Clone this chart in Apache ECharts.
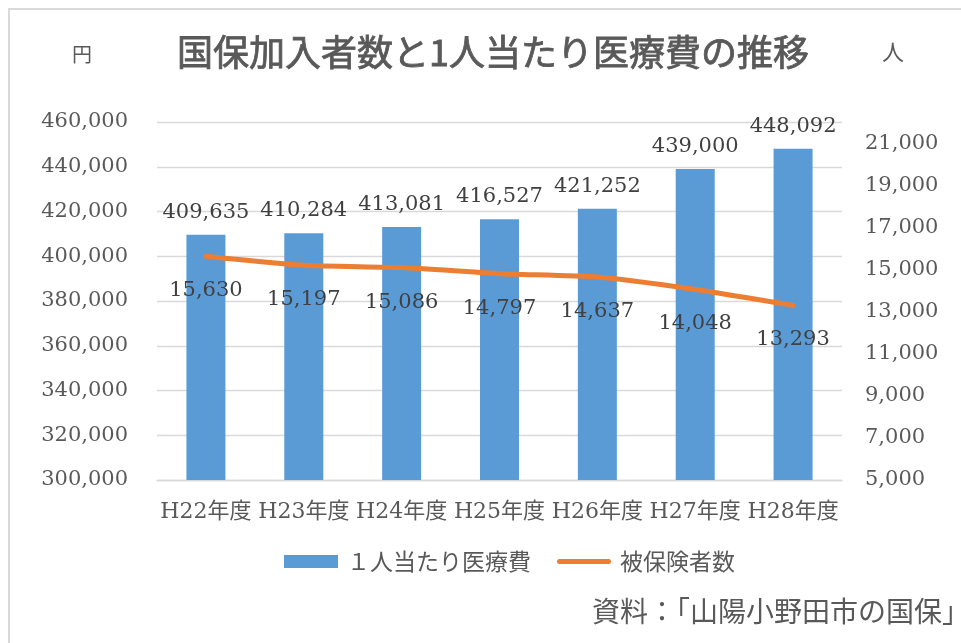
<!DOCTYPE html>
<html>
<head>
<meta charset="utf-8">
<script src="https://cdn.jsdelivr.net/npm/echarts@6/dist/echarts.min.js"></script>
<style>
  html, body { margin: 0; padding: 0; background: #fff; }
  #chart { width: 961px; height: 643px; }
</style>
</head>
<body>
<div id="chart"></div>
<script>
// 年度
const years = ['H22年度', 'H23年度', 'H24年度', 'H25年度', 'H26年度', 'H27年度', 'H28年度'];
// 1人当たり医療費（円）
const costPerPerson = [409635, 410284, 413081, 416527, 421252, 439000, 448092];
// 被保険者数（人）
const insured = [15630, 15197, 15086, 14797, 14637, 14048, 13293];

const serif = "'DejaVu Serif', 'Noto Sans CJK JP', serif";
const sans = "'Noto Sans CJK JP', sans-serif";
const fmt = v => Number(v).toLocaleString('en-US');

const chart = echarts.init(document.getElementById('chart'));

chart.setOption({
  animation: false,
  backgroundColor: '#fff',
  title: {
    text: '国保加入者数と1人当たり医療費の推移',
    left: 172,
    top: 29,
    textStyle: {
      fontFamily: sans, fontSize: 36, fontWeight: 'normal', color: '#595959',
      textBorderColor: '#595959', textBorderWidth: 0.8
    }
  },
  graphic: [
    // 外枠
    {
      type: 'rect',
      shape: { x: 9, y: 9, width: 980, height: 660 },
      style: { fill: 'none', stroke: '#D9D9D9', lineWidth: 2 },
      silent: true
    },
    {
      type: 'text', left: 72, top: 44,
      style: { text: '円', font: '20px ' + sans, fill: '#595959' }
    },
    {
      type: 'text', left: 882, top: 41,
      style: { text: '人', font: '22px ' + sans, fill: '#595959' }
    },
    {
      type: 'text', left: 592, top: 597,
      style: { text: '資料：「山陽小野田市の国保」', font: '28px ' + sans, fill: '#595959' }
    }
  ],
  legend: {
    left: 279,
    top: 545,
    itemGap: 26,
    itemWidth: 54,
    itemHeight: 13,
    textStyle: { fontFamily: sans, fontSize: 23, color: '#595959', padding: [0, 0, 0, 4] },
    data: [
      { name: '１人当たり医療費', icon: 'rect' },
      {
        name: '被保険者数',
        icon: 'path://M2.5,0 L51.5,0 A2.5,2.5 0 0 1 51.5,5 L2.5,5 A2.5,2.5 0 0 1 2.5,0 Z',
        itemStyle: { color: '#ED7D31', opacity: 1 }
      }
    ]
  },
  grid: { left: 157, right: 119, top: 122, bottom: 163 },
  xAxis: {
    type: 'category',
    data: years,
    axisLine: { lineStyle: { color: '#D9D9D9', width: 1.3 } },
    axisTick: { show: false },
    axisLabel: {
      interval: 0,
      margin: 21,
      fontFamily: serif,
      fontSize: 22,
      color: '#595959'
    }
  },
  yAxis: [
    {
      type: 'value',
      min: 300000,
      max: 460000,
      interval: 20000,
      axisLine: { show: false },
      axisTick: { show: false },
      splitLine: { lineStyle: { color: '#D9D9D9', width: 1.3 } },
      axisLabel: {
        margin: 29,
        fontFamily: serif,
        fontSize: 21,
        color: '#595959',
        formatter: fmt
      }
    },
    {
      type: 'value',
      min: 5000,
      max: 22000,
      interval: 2000,
      axisLine: { show: false },
      axisTick: { show: false },
      splitLine: { show: false },
      axisLabel: {
        margin: 23,
        showMaxLabel: false,
        fontFamily: serif,
        fontSize: 21,
        color: '#595959',
        formatter: fmt
      }
    }
  ],
  series: [
    {
      name: '１人当たり医療費',
      type: 'bar',
      data: costPerPerson,
      barWidth: 39,
      itemStyle: { color: '#5B9BD5' },
      label: {
        show: true,
        position: 'top',
        distance: 12,
        fontFamily: serif,
        fontSize: 21,
        color: '#404040',
        formatter: p => fmt(p.value)
      },
      z: 2
    },
    {
      name: '被保険者数',
      type: 'line',
      yAxisIndex: 1,
      data: insured,
      smooth: 0.2,
      symbol: 'circle',
      symbolSize: 2,
      showSymbol: true,
      lineStyle: { color: '#ED7D31', width: 5, cap: 'round' },
      itemStyle: { color: '#ED7D31' },
      label: {
        show: true,
        position: 'bottom',
        distance: 23,
        fontFamily: serif,
        fontSize: 21,
        color: '#404040',
        formatter: p => fmt(p.value)
      },
      z: 3
    }
  ]
});
</script>
</body>
</html>
